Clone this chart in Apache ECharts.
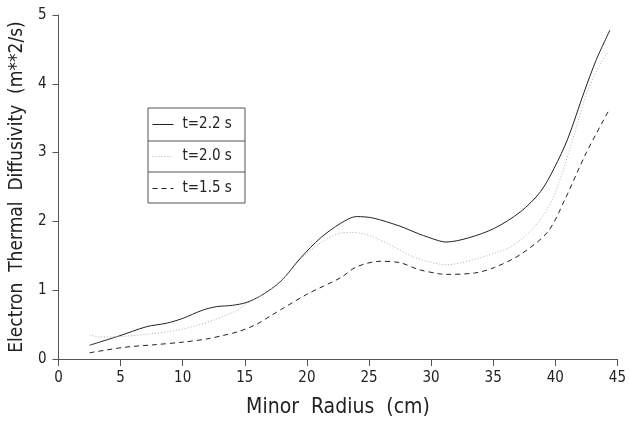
<!DOCTYPE html>
<html>
<head>
<meta charset="utf-8">
<script src="https://cdn.jsdelivr.net/npm/echarts@6/dist/echarts.min.js"></script>
<style>
  html, body { margin: 0; padding: 0; background: #fff; }
  #chart { width: 629px; height: 423px; }
</style>
</head>
<body>
<div id="chart"></div>
<script>
// t=2.2 s (solid)
const r22 = [2.5, 4.8, 7.1, 8.7, 10, 11.6, 12.7, 14, 15.1, 16.3, 17.9, 19.5, 21.1, 22.7, 24, 25.3, 27.5, 29, 30.6, 31.2, 33, 35.1, 37.2, 38.8, 39.9, 41, 42.3, 43.3, 44.4];
const chi22 = [0.2, 0.33, 0.47, 0.52, 0.59, 0.71, 0.76, 0.78, 0.82, 0.92, 1.13, 1.47, 1.76, 1.97, 2.07, 2.05, 1.93, 1.82, 1.72, 1.70, 1.76, 1.90, 2.14, 2.43, 2.77, 3.2, 3.87, 4.35, 4.78];

// t=2.0 s (dotted)
const r20 = [2.5, 3.4, 5.3, 7.4, 9.3, 11.1, 12.7, 14.3, 15.1, 16.3, 17.9, 19.5, 21.1, 22.7, 23.5, 24.8, 26.7, 28.5, 30.1, 31.2, 33.5, 36.2, 37.2, 38.2, 39, 39.8, 40.4, 41.5, 42.5, 43.5, 44.2];
const chi20 = [0.35, 0.32, 0.33, 0.365, 0.41, 0.485, 0.58, 0.70, 0.80, 0.92, 1.13, 1.45, 1.69, 1.83, 1.84, 1.81, 1.66, 1.49, 1.40, 1.37, 1.45, 1.61, 1.73, 1.90, 2.08, 2.33, 2.62, 3.25, 3.85, 4.25, 4.45];

// t=1.5 s (dashed)
const r15 = [2.5, 5.3, 7.9, 10, 11.9, 13.2, 14.5, 15.9, 17.1, 20, 22.7, 24, 25.9, 27.5, 29, 30.6, 31.2, 33.5, 35.1, 37.2, 39.4, 40.8, 42.5, 44.3];
const chi15 = [0.09, 0.17, 0.21, 0.245, 0.29, 0.34, 0.40, 0.50, 0.63, 0.94, 1.18, 1.34, 1.42, 1.40, 1.30, 1.24, 1.23, 1.25, 1.33, 1.52, 1.85, 2.33, 3.0, 3.61];

const seriesNames = ['t=2.2 s', 't=2.0 s', 't=1.5 s'];
const xTitle = 'Minor  Radius  (cm)';
const yTitle = 'Electron  Thermal  Diffusivity  (m**2/s)';

const font = "'Liberation Sans Narrow', 'DejaVu Sans Condensed', sans-serif";
const pairs = (xs, ys) => xs.map((x, i) => [x, ys[i]]);

const chart = echarts.init(document.getElementById('chart'), null, { renderer: 'canvas' });

const axisCommon = {
  axisLine: { lineStyle: { color: '#555', width: 1 } },
  axisLabel: { color: '#222', fontSize: 15, fontFamily: font, margin: 12 },
  splitLine: { show: false },
  nameLocation: 'middle'
};

chart.setOption({
  animation: false,
  backgroundColor: '#fff',
  grid: { left: 54, right: 8, top: 15, bottom: 61 },
  xAxis: Object.assign({}, axisCommon, {
    type: 'value', min: 0, max: 45, interval: 5,
    name: xTitle, nameGap: 38,
    nameTextStyle: { color: '#222', fontSize: 21, fontFamily: font },
    axisTick: { length: 7, lineStyle: { color: '#555' } }
  }),
  yAxis: Object.assign({}, axisCommon, {
    type: 'value', min: 0, max: 5, interval: 1,
    name: yTitle, nameGap: 31,
    nameTextStyle: { color: '#222', fontSize: 19, fontFamily: font },
    axisTick: { length: 6, lineStyle: { color: '#555' } }
  }),
  legend: {
    orient: 'vertical',
    left: 152, top: 117,
    padding: 0,
    itemWidth: 21, itemHeight: 14, itemGap: 17,
    itemStyle: { opacity: 0 },
    lineStyle: { width: 1 },
    textStyle: { color: '#222', fontSize: 15, fontFamily: font, padding: [0, 0, 0, 4] },
    data: seriesNames
  },
  graphic: [
    { type: 'rect', shape: { x: 148, y: 108, width: 97, height: 95 },
      style: { fill: 'none', stroke: '#555', lineWidth: 1 }, z: 100 },
    { type: 'line', shape: { x1: 148, y1: 141, x2: 245, y2: 141 },
      style: { stroke: '#555', lineWidth: 1 }, z: 100 },
    { type: 'line', shape: { x1: 148, y1: 172, x2: 245, y2: 172 },
      style: { stroke: '#555', lineWidth: 1 }, z: 100 }
  ],
  series: [
    { name: seriesNames[0], type: 'line', data: pairs(r22, chi22), smooth: 0.3,
      symbol: 'none', lineStyle: { color: '#222', width: 1, type: 'solid' }, itemStyle: { color: '#222' } },
    { name: seriesNames[1], type: 'line', data: pairs(r20, chi20), smooth: 0.3,
      symbol: 'none', lineStyle: { color: '#b0b0b0', width: 1, type: [1, 2] }, itemStyle: { color: '#b0b0b0' } },
    { name: seriesNames[2], type: 'line', data: pairs(r15, chi15), smooth: 0.3,
      symbol: 'none', lineStyle: { color: '#222', width: 1, type: [5, 4] }, itemStyle: { color: '#222' } }
  ]
});
</script>
</body>
</html>
